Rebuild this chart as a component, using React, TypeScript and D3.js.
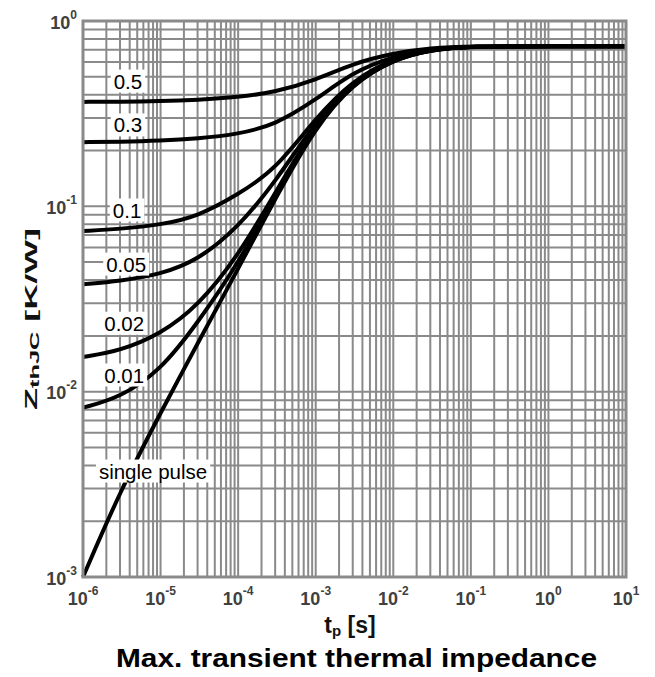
import React, { useEffect, useRef } from 'react';
import * as d3 from 'd3';

// pulse duration samples [s]
const tp = [1e-6, 3e-6, 1e-5, 3e-5, 1e-4, 3e-4, 1e-3, 3e-3, 1e-2, 3e-2, 1e-1, 1, 10];
// ZthJC [K/W] per duty cycle
const zD05 = [0.366, 0.367, 0.369, 0.375, 0.388, 0.413, 0.48, 0.59, 0.67, 0.715, 0.73, 0.73, 0.73];
const zD03 = [0.222, 0.223, 0.226, 0.232, 0.245, 0.275, 0.375, 0.53, 0.645, 0.708, 0.73, 0.73, 0.73];
const zD01 = [0.0735, 0.0755, 0.0795, 0.088, 0.116, 0.157, 0.3, 0.48, 0.63, 0.705, 0.73, 0.73, 0.73];
const zD005 = [0.038, 0.0395, 0.043, 0.051, 0.077, 0.135, 0.287, 0.47, 0.625, 0.703, 0.73, 0.73, 0.73];
const zD002 = [0.0154, 0.0166, 0.0205, 0.0288, 0.054, 0.118, 0.278, 0.465, 0.622, 0.702, 0.73, 0.73, 0.73];
const zD001 = [0.0082, 0.0093, 0.013, 0.0235, 0.049, 0.114, 0.274, 0.462, 0.621, 0.701, 0.73, 0.73, 0.73];
const zSingle = [0.001, 0.0029, 0.0077, 0.0182, 0.046, 0.11, 0.27, 0.46, 0.62, 0.70, 0.73, 0.73, 0.73];

const seriesNames = ['0.5', '0.3', '0.1', '0.05', '0.02', '0.01', 'single pulse'];
const seriesValues = [zD05, zD03, zD01, zD005, zD002, zD001, zSingle];
// label anchor positions in data units
const labelT = [3.8e-6, 3.8e-6, 3.7e-6, 3.6e-6, 3.4e-6, 3.4e-6, 8.0e-6];
const labelZ = [0.474, 0.275, 0.0955, 0.0488, 0.0234, 0.0123, 0.00373];

const xTickExps = [-6, -5, -4, -3, -2, -1, 0, 1];
const yTickExps = [-3, -2, -1, 0];

const FONT = "Arial, 'Liberation Sans', Helvetica, sans-serif";

export default function App() {
  const ref = useRef<SVGSVGElement>(null);
  useEffect(() => {
    const svg = d3.select(ref.current);
    svg.selectAll('*').remove();
    const W = 655, H = 677;
    const L = 83, R = 626, T = 21, B = 577;
    const x = d3.scaleLog().domain([1e-6, 10]).range([L, R]);
    const y = d3.scaleLog().domain([1e-3, 1]).range([B, T]);
    const gridColor = '#8a8a8a';

    svg.append('rect').attr('width', W).attr('height', H).attr('fill', '#fff');

    const xGrid: number[] = [];
    for (let k = -6; k <= 0; k++) for (let m = 1; m <= 9; m++) xGrid.push(m * Math.pow(10, k));
    xGrid.push(10);
    const yGrid: number[] = [];
    for (let k = -3; k <= -1; k++) for (let m = 1; m <= 9; m++) yGrid.push(m * Math.pow(10, k));
    yGrid.push(1);

    const g = svg.append('g');
    g.selectAll('line.vx').data(xGrid).join('line')
      .attr('class', 'vx')
      .attr('x1', d => x(d)).attr('x2', d => x(d)).attr('y1', T).attr('y2', B)
      .attr('stroke', gridColor).attr('stroke-width', 2);
    g.selectAll('line.hy').data(yGrid).join('line')
      .attr('class', 'hy')
      .attr('y1', d => y(d)).attr('y2', d => y(d)).attr('x1', L).attr('x2', R)
      .attr('stroke', gridColor).attr('stroke-width', 2);

    const line = d3.line<[number, number]>()
      .x(d => x(d[0])).y(d => y(d[1])).curve(d3.curveBasis);

    seriesValues.forEach(vals => {
      const pts = tp.map((t, i) => [t, vals[i]] as [number, number]);
      svg.append('path').attr('d', line(pts) as string)
        .attr('fill', 'none').attr('stroke', '#000').attr('stroke-width', 4)
        .attr('stroke-linejoin', 'round');
    });

    // labels with white boxes
    seriesNames.forEach((name, i) => {
      const lg = svg.append('g');
      const rect = lg.append('rect').attr('fill', '#fff');
      const txt = lg.append('text')
        .attr('x', x(labelT[i])).attr('y', y(labelZ[i]))
        .attr('text-anchor', 'middle').attr('dominant-baseline', 'central')
        .attr('font-family', FONT).attr('font-size', 20.5).attr('fill', '#000')
        .text(name);
      const bb = (txt.node() as SVGTextElement).getBBox();
      rect.attr('x', bb.x - 3).attr('y', bb.y).attr('width', bb.width + 6).attr('height', bb.height);
    });

    // border
    svg.append('rect').attr('x', L).attr('y', T).attr('width', R - L).attr('height', B - T)
      .attr('fill', 'none').attr('stroke', gridColor).attr('stroke-width', 3);

    // x tick labels
    xTickExps.forEach(e => {
      const t = svg.append('text').attr('x', x(Math.pow(10, e))).attr('y', 605)
        .attr('text-anchor', 'middle').attr('font-family', FONT).attr('font-weight', 'bold')
        .attr('font-size', 18).attr('fill', '#404040');
      t.append('tspan').text('10');
      t.append('tspan').attr('dy', -10).attr('font-size', 12).text(String(e));
    });
    // y tick labels
    yTickExps.forEach(e => {
      const t = svg.append('text').attr('x', 77).attr('y', y(Math.pow(10, e)) + 7.5)
        .attr('text-anchor', 'end').attr('font-family', FONT).attr('font-weight', 'bold')
        .attr('font-size', 18).attr('fill', '#404040');
      t.append('tspan').text('10');
      t.append('tspan').attr('dy', -10).attr('font-size', 12).text(String(e));
    });

    // x axis title
    const xt = svg.append('text').attr('x', 350).attr('y', 633).attr('text-anchor', 'middle')
      .attr('font-family', FONT).attr('font-weight', 'bold').attr('font-size', 23).attr('fill', '#111');
    xt.append('tspan').text('t');
    xt.append('tspan').attr('font-size', 15).attr('dy', 3).text('p');
    xt.append('tspan').attr('dy', -3).text(' [s]');

    // y axis title
    const yt = svg.append('text').attr('transform', 'translate(37,319) rotate(-90)')
      .attr('text-anchor', 'middle').attr('font-family', FONT).attr('font-weight', 'bold')
      .attr('font-size', 17).attr('fill', '#111')
      .attr('textLength', 182).attr('lengthAdjust', 'spacingAndGlyphs');
    yt.append('tspan').text('Z');
    yt.append('tspan').attr('font-size', 12).attr('dy', 2).text('thJC');
    yt.append('tspan').attr('dy', -2).text(' [K/W]');

    // chart title
    svg.append('text').attr('x', 356.5).attr('y', 667).attr('text-anchor', 'middle')
      .attr('font-family', FONT).attr('font-weight', 'bold').attr('font-size', 26).attr('fill', '#000')
      .attr('textLength', 481).attr('lengthAdjust', 'spacingAndGlyphs')
      .text('Max. transient thermal impedance');
  }, []);
  return (
    <svg ref={ref} width={655} height={677}
      style={{ position: 'absolute', left: 0, top: 0, display: 'block' }} />
  );
}
